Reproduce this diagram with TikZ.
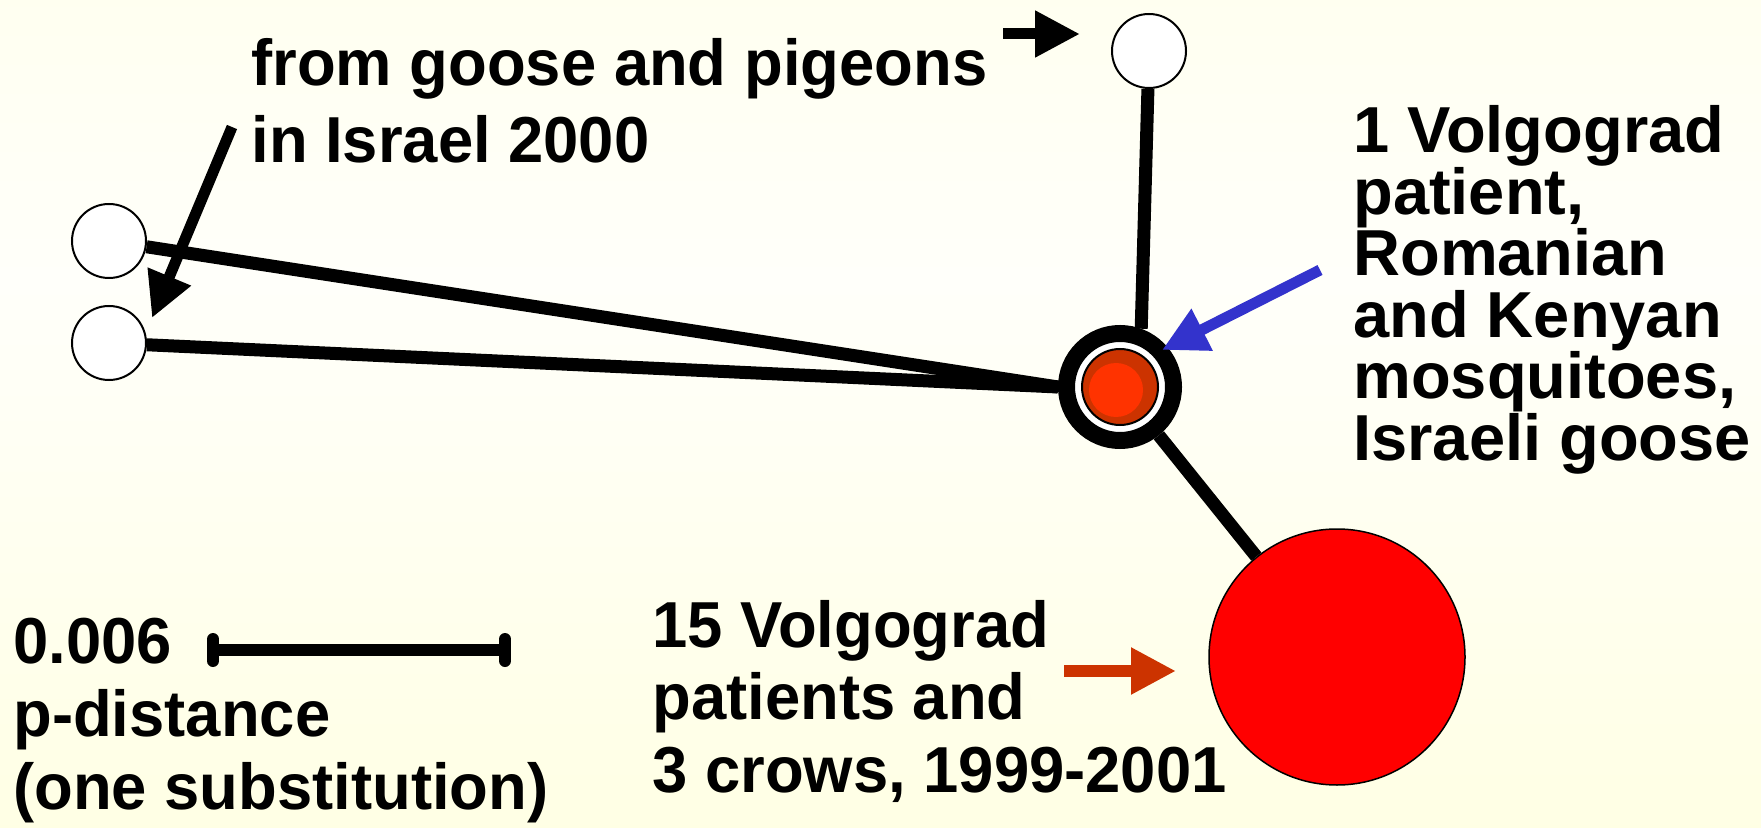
\documentclass[tikz,border=0pt]{standalone}
\usepackage{fontspec}
\setmainfont{Liberation Sans}
\newfontfamily\narrowsans[FakeStretch=0.975]{Liberation Sans}
\usepackage{tikz}
\usetikzlibrary{arrows.meta, calc}

\definecolor{bgtop}{RGB}{254,254,226}
\definecolor{bgmid}{RGB}{255,255,250}
\definecolor{bgbot}{RGB}{255,255,212}
\definecolor{hubred}{RGB}{204,51,0}
\definecolor{spotred}{RGB}{255,51,0}
\definecolor{pointblue}{RGB}{51,51,204}
\pgfdeclareverticalshading{paper}{100bp}{color(0bp)=(bgbot); color(58bp)=(bgmid); color(100bp)=(bgtop)}

\begin{document}
\begin{tikzpicture}[x=0.5pt, y=-0.5pt,
    leaf/.style={circle, draw, fill=white, line width=1pt, minimum size=37pt, inner sep=0pt},
    branch/.style={line width=6.5pt},
    pointer/.style={line width=5.5pt, -{Triangle[length=22.5pt, width=22pt]}},
    txt/.style={font=\fontsize{32.5pt}{#1}\selectfont\bfseries, align=left, inner sep=0pt, anchor=base west},
    narrow/.style={txt=#1, font=\narrowsans\fontsize{32.5pt}{#1}\selectfont\bfseries}]
    \shade[shading=paper] (0,0) rectangle (1761,828);
    \useasboundingbox (0,0) rectangle (1761,828);

    \node[leaf] (tip0) at (1149,51) {};
    \node[leaf] (tip1) at (109,241) {};
    \node[leaf] (tip2) at (109,343) {};
    \node[circle, draw, fill=white, line width=8.5pt, minimum size=53.5pt, inner sep=0pt] (hub) at (1120,387) {};
    \node[circle, draw, fill=hubred, line width=1pt, minimum size=38pt, inner sep=0pt] (core) at (hub) {};
    \node[circle, fill=spotred, minimum size=27pt, inner sep=0pt] (spot) at (1116,390) {};
    \node[circle, draw, fill=red, line width=0.75pt, minimum size=128pt, inner sep=0pt] (clade) at (1337,657) {};

    \draw[branch] (tip0) -- (hub.70);
    \draw[branch] (tip1) -- (hub.west);
    \draw[branch] (tip2) -- (hub.west);
    \draw[branch] (hub) -- (clade);

    \node[narrow=38.5pt] (note0) at (251,163) {from goose and pigeons\\in Israel 2000};
    \node[txt=30.7pt] (note1) at (1353,460) {1 Volgograd\\patient,\\Romanian\\and Kenyan\\mosquitoes,\\Israeli goose};
    \node[narrow=36.25pt] (note2) at (652,792) {15 Volgograd\\patients and\\3 crows, 1999-2001};
    \node[narrow=36.5pt] (note3) at (13,809) {0.006\\p-distance\\(one substitution)};

    \coordinate (from0) at (1003,34);
    \coordinate (to0) at (1080,34);
    \coordinate (from1) at (232,127);
    \coordinate (to1) at (152,318);
    \coordinate (from2) at (1320,270);
    \coordinate (to2) at (1162,350);
    \coordinate (from3) at (1064,671);
    \coordinate (to3) at (1176,671);
    \draw[pointer] (from0) -- (to0);
    \draw[pointer] (from1) -- (to1);
    \draw[pointer, pointblue] (from2) -- (to2);
    \draw[pointer, hubred, line width=6pt] (from3) -- (to3);

    \coordinate (bar0) at (213,650);
    \coordinate (bar1) at (505,650);
    \draw[line width=6pt] (bar0) -- (bar1);
    \draw[line width=6pt, line cap=round] ($(bar0)+(0,-11)$) -- ($(bar0)+(0,11)$);
    \draw[line width=6pt, line cap=round] ($(bar1)+(0,-11)$) -- ($(bar1)+(0,11)$);
\end{tikzpicture}
\end{document}
